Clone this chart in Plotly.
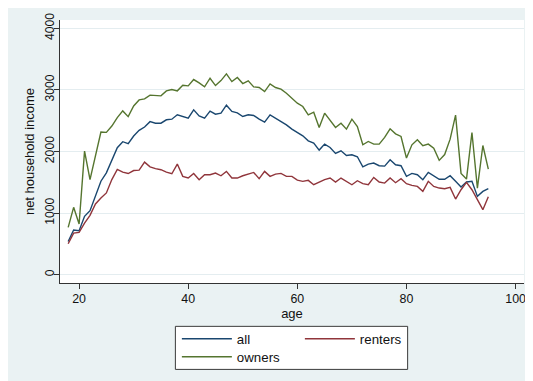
import plotly.graph_objects as go

ages = list(range(18, 96))

all_income = [538, 723, 712, 946, 1038, 1272, 1516, 1652, 1870, 2060,
              2158, 2125, 2250, 2342, 2397, 2484, 2459, 2459, 2514, 2524,
              2595, 2568, 2541, 2676, 2578, 2541, 2654, 2605, 2622, 2751,
              2649, 2627, 2568, 2595, 2584, 2524, 2476, 2595, 2541, 2497,
              2432, 2362, 2308, 2254, 2173, 2135, 2022, 2119, 2065, 1968,
              2011, 1935, 1946, 1914, 1751, 1795, 1811, 1768, 1762, 1865,
              1784, 1768, 1595, 1643, 1622, 1541, 1659, 1605, 1548, 1548,
              1605, 1514, 1422, 1503, 1514, 1270, 1351, 1395]

renters_income = [500, 674, 685, 837, 962, 1147, 1245, 1326, 1543, 1707,
                  1663, 1641, 1690, 1696, 1826, 1750, 1721, 1703, 1665, 1638,
                  1795, 1595, 1568, 1643, 1541, 1622, 1622, 1649, 1605, 1676,
                  1568, 1568, 1605, 1632, 1659, 1557, 1676, 1595, 1632, 1643,
                  1595, 1595, 1535, 1514, 1530, 1459, 1503, 1541, 1568, 1503,
                  1568, 1508, 1459, 1524, 1476, 1459, 1578, 1503, 1486, 1568,
                  1492, 1557, 1476, 1449, 1432, 1351, 1514, 1432, 1405, 1395,
                  1416, 1227, 1378, 1497, 1378, 1216, 1054, 1265]

owners_income = [766, 1092, 821, 2005, 1543, 1951, 2315, 2310, 2413, 2549,
                 2658, 2565, 2739, 2837, 2853, 2915, 2910, 2903, 2984, 3005,
                 2984, 3076, 3065, 3168, 3114, 3049, 3189, 3070, 3151, 3260,
                 3135, 3200, 3103, 3146, 3049, 3038, 2973, 3097, 3038, 3011,
                 2946, 2865, 2784, 2730, 2595, 2638, 2389, 2622, 2497, 2389,
                 2459, 2362, 2524, 2405, 2108, 2162, 2119, 2119, 2227, 2368,
                 2286, 2243, 1892, 2108, 2189, 2092, 2119, 2054, 1855, 1950,
                 2200, 2589, 1643, 1551, 2308, 1405, 2097, 1714]

x_ticks = [20, 40, 60, 80, 100]
y_ticks = [0, 1000, 2000, 3000, 4000]

# layout geometry: screen pixels; the page body adds an 8px offset
OFF = 8
W, H = 533, 381
L, R, T, B = 59.5 - OFF, 524.0 - OFF, 20.0 - OFF, 282.7 - OFF


def px_x(sx):
    return (sx - OFF - L) / (R - L)


def px_y(sy):
    return (B - (sy - OFF)) / (B - T)


BG = "#EAF2F3"
FONT = "Liberation Sans, Arial, sans-serif"

fig = go.Figure()
fig.add_trace(go.Scatter(x=ages, y=all_income, mode="lines", name="all",
                         line=dict(color="#1A476F", width=1.4), legend="legend"))
fig.add_trace(go.Scatter(x=ages, y=renters_income, mode="lines", name="renters",
                         line=dict(color="#90353B", width=1.4), legend="legend"))
fig.add_trace(go.Scatter(x=ages, y=owners_income, mode="lines", name="owners",
                         line=dict(color="#55752F", width=1.4), legend="legend2"))

shapes = [
    # legend frame
    dict(type="rect", xref="paper", yref="paper", x0=px_x(175), x1=px_x(407.5),
         y0=px_y(369), y1=px_y(326), fillcolor="white",
         line=dict(color="#3a3a3a", width=1), layer="below"),
]

fig.update_layout(
    width=W, height=H,
    margin=dict(l=L, r=W - R, t=T, b=H - B, pad=0, autoexpand=False),
    paper_bgcolor=BG, plot_bgcolor="white",
    font=dict(family=FONT, color="#111111", size=13),
    shapes=shapes,
    legend=dict(orientation="h", x=px_x(176.5), y=px_y(323.3), xanchor="left", yanchor="top",
                bgcolor="rgba(0,0,0,0)", borderwidth=0, itemwidth=50,
                entrywidth=58, font=dict(size=13.3, family=FONT)),
    legend2=dict(orientation="h", x=px_x(176.5), y=px_y(341.3), xanchor="left", yanchor="top",
                 bgcolor="rgba(0,0,0,0)", borderwidth=0, itemwidth=50,
                 font=dict(size=13.3, family=FONT)),
    xaxis=dict(range=[16.5, 101.54], tickvals=x_ticks, showgrid=False, zeroline=False,
               automargin=False, ticklabelstandoff=-1,
               showline=True, linecolor="#333333", linewidth=1, ticks="outside",
               ticklen=5, tickcolor="#333333", tickfont=dict(size=12.4),
               title=dict(text="age", font=dict(size=13), standoff=0)),
    yaxis=dict(range=[-137, 4135], tickvals=y_ticks, showgrid=True, gridcolor="#E4EDF0",
               automargin=False, ticklabelstandoff=-5,
               gridwidth=1.2, zeroline=False, showline=True, linecolor="#333333",
               linewidth=1, ticks="outside", ticklen=5, tickcolor="#333333",
               tickangle=-90, tickfont=dict(size=12.2),
               title=dict(text="net household income", font=dict(size=13), standoff=5)),
)

fig.write_html("out.html")
